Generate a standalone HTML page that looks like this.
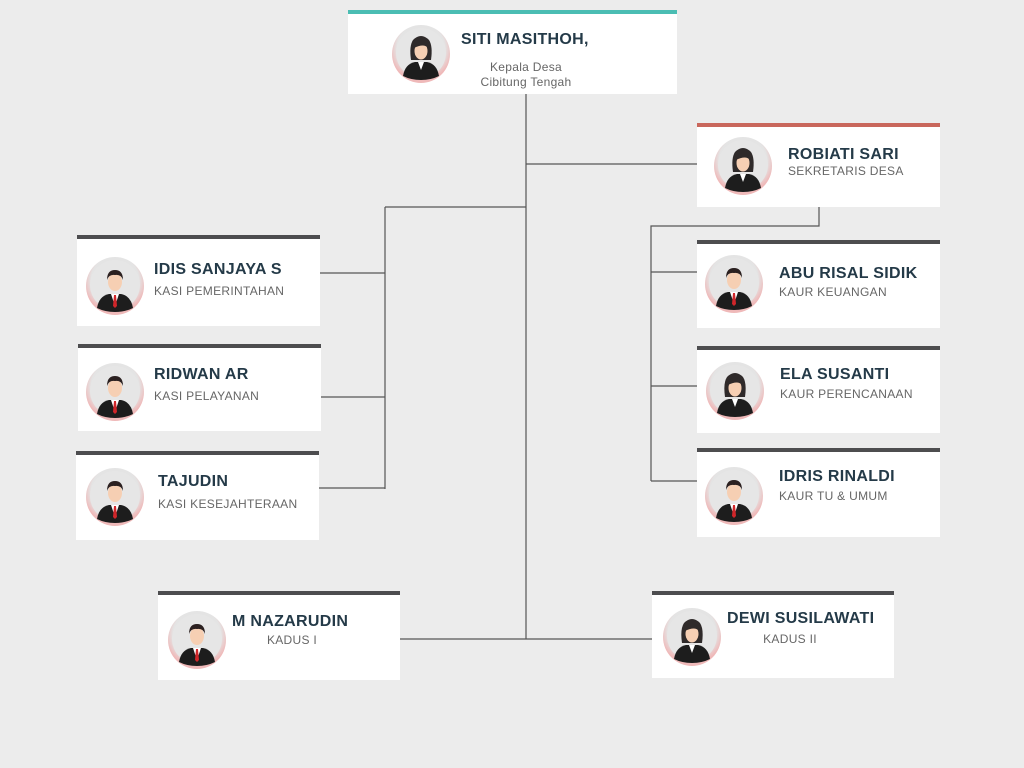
<!DOCTYPE html>
<html><head><meta charset="utf-8"><style>
body{margin:0;width:1024px;height:768px;background:#ececec;position:relative;overflow:hidden;font-family:"Liberation Sans","DejaVu Sans",sans-serif}
.c{position:absolute;background:#fff;border-top:4px solid #4d4d4f;box-sizing:border-box}
.n{position:absolute;font-weight:bold;font-size:16px;color:#243a48;white-space:nowrap;letter-spacing:0.3px}
.s{position:absolute;font-size:12px;color:#666;white-space:nowrap;letter-spacing:0.3px}
svg.l{position:absolute;left:0;top:0}
.a{position:absolute;width:60px;height:60px}
</style></head><body>
<svg width="0" height="0" style="position:absolute">
<defs>
<radialGradient id="rg" cx="50%" cy="40%" r="55%"><stop offset="75%" stop-color="#e4e4e4"/><stop offset="100%" stop-color="#efb9b9"/></radialGradient>
<symbol id="m" viewBox="0 0 60 60"><circle cx="30" cy="30" r="29" fill="url(#rg)"/><circle cx="30" cy="29" r="25" fill="#e6e6e6"/>
<path d="M12 52 Q14 40 24 38 L36 38 Q46 40 48 52 Q40 56 30 56 Q20 56 12 52Z" fill="#1d1d1d"/>
<path d="M26 38 L30 50 L34 38Z" fill="#fff"/><path d="M29 39 L31 39 L32 50 L30 52 L28 50Z" fill="#d0262a"/>
<ellipse cx="30" cy="26" rx="7" ry="9" fill="#f6cfb3"/><path d="M22 24 Q22 14 30 14 Q38 14 38 24 Q36 18 30 19 Q24 18 22 24Z" fill="#2b2020"/></symbol>
<symbol id="f" viewBox="0 0 60 60"><circle cx="30" cy="30" r="29" fill="url(#rg)"/><circle cx="30" cy="29" r="25" fill="#e6e6e6"/>
<path d="M20 36 Q18 22 22 16 Q30 8 38 16 Q42 22 40 36Z" fill="#2f2a2a"/>
<path d="M12 52 Q14 40 24 38 L36 38 Q46 40 48 52 Q40 56 30 56 Q20 56 12 52Z" fill="#1d1d1d"/>
<path d="M27 38 L30 46 L33 38Z" fill="#fff"/>
<ellipse cx="30" cy="27" rx="6.5" ry="8.5" fill="#f6cfb3"/><path d="M23 24 Q24 16 31 17 Q36 18 37 24 Q33 19 23 24Z" fill="#2f2a2a"/></symbol>
</defs></svg>

<svg class="l" width="1024" height="768"><g stroke="#555" stroke-width="1.2" fill="none">
<path d="M526 94V639M526 164H697M385 207H526M385 207V489M320 273H385M321 397H385M319 488H385M400 639H652M819 207V226H651V481M651 272H697M651 386H697M651 481H697"/></g></svg>

<div class="c" style="left:348px;top:10px;width:329px;height:84px;border-top-color:#4bbdb3"></div>
<svg class="a" style="left:391px;top:24px"><use href="#f"/></svg>
<div class="n" style="left:461px;top:31px">SITI MASITHOH,</div>
<div class="s" style="left:426px;top:60px;width:200px;text-align:center;line-height:15px">Kepala Desa<br>Cibitung Tengah</div>

<div class="c" style="left:697px;top:123px;width:243px;height:84px;border-top-color:#c9675c"></div>
<svg class="a" style="left:713px;top:136px"><use href="#f"/></svg>
<div class="n" style="left:788px;top:146px">ROBIATI SARI</div>
<div class="s" style="left:788px;top:164px">SEKRETARIS DESA</div>

<div class="c" style="left:77px;top:235px;width:243px;height:91px"></div>
<svg class="a" style="left:85px;top:256px"><use href="#m"/></svg>
<div class="n" style="left:154px;top:261px">IDIS SANJAYA S</div>
<div class="s" style="left:154px;top:284px">KASI PEMERINTAHAN</div>

<div class="c" style="left:78px;top:344px;width:243px;height:87px"></div>
<svg class="a" style="left:85px;top:362px"><use href="#m"/></svg>
<div class="n" style="left:154px;top:366px">RIDWAN AR</div>
<div class="s" style="left:154px;top:389px">KASI PELAYANAN</div>

<div class="c" style="left:76px;top:451px;width:243px;height:89px"></div>
<svg class="a" style="left:85px;top:467px"><use href="#m"/></svg>
<div class="n" style="left:158px;top:473px">TAJUDIN</div>
<div class="s" style="left:158px;top:497px">KASI KESEJAHTERAAN</div>

<div class="c" style="left:697px;top:240px;width:243px;height:88px"></div>
<svg class="a" style="left:704px;top:254px"><use href="#m"/></svg>
<div class="n" style="left:779px;top:265px">ABU RISAL SIDIK</div>
<div class="s" style="left:779px;top:285px">KAUR KEUANGAN</div>

<div class="c" style="left:697px;top:346px;width:243px;height:87px"></div>
<svg class="a" style="left:705px;top:361px"><use href="#f"/></svg>
<div class="n" style="left:780px;top:366px">ELA SUSANTI</div>
<div class="s" style="left:780px;top:387px">KAUR PERENCANAAN</div>

<div class="c" style="left:697px;top:448px;width:243px;height:89px"></div>
<svg class="a" style="left:704px;top:466px"><use href="#m"/></svg>
<div class="n" style="left:779px;top:468px">IDRIS RINALDI</div>
<div class="s" style="left:779px;top:489px">KAUR TU &amp; UMUM</div>

<div class="c" style="left:158px;top:591px;width:242px;height:89px"></div>
<svg class="a" style="left:167px;top:610px"><use href="#m"/></svg>
<div class="n" style="left:232px;top:613px">M NAZARUDIN</div>
<div class="s" style="left:242px;top:633px;width:100px;text-align:center">KADUS I</div>

<div class="c" style="left:652px;top:591px;width:242px;height:87px"></div>
<svg class="a" style="left:662px;top:607px"><use href="#f"/></svg>
<div class="n" style="left:727px;top:610px">DEWI SUSILAWATI</div>
<div class="s" style="left:740px;top:632px;width:100px;text-align:center">KADUS II</div>
</body></html>
